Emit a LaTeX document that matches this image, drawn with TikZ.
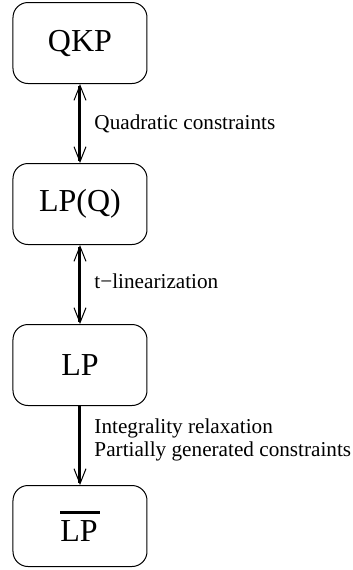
\documentclass[tikz,border=0pt]{standalone}
\usepackage{fontspec}
\setmainfont{Liberation Serif}
\usetikzlibrary{arrows.meta}
\tikzset{
	stage/.style={draw, line width=0.5pt, rounded corners=7.5pt, minimum width=67pt, minimum height=40.5pt, inner sep=0pt, font=\fontsize{16}{18}\selectfont},
	link/.style={line width=1.5pt},
	barb/.tip={Straight Barb[length=7.5pt, width=6pt, line width=0.5pt]},
	tag/.style={anchor=west, inner sep=0pt, xshift=6.5pt, align=left, font=\fontsize{10.6}{11.5}\selectfont}
}

\begin{document}
\begin{tikzpicture}
				\useasboundingbox (0,0) rectangle (176.5pt,-285pt);
				
				\node[stage] (qkp) at (40pt,-21.5pt) {QKP};
				\node[stage] (lpq) at (40pt,-102pt) {LP(Q)};
				\node[stage] (lp) at (40pt,-182.5pt) {LP};
				\node[stage] (lpbar) at (40pt,-263pt) {\vbox{\hrule height 1.5pt\kern 3.5pt\hbox{LP\kern 1pt}}};
				
				\draw[link, barb-barb] (qkp) -- node[tag] (quad) {Quadratic constraints} (lpq);
				\draw[link, barb-barb] (lpq) -- node[tag, yshift=1.5pt] (tlin) {t−linearization} (lp);
				\draw[link, -barb] (lp) -- node[tag, yshift=3pt] (relax) {Integrality relaxation\\Partially generated constraints} (lpbar);
			\end{tikzpicture}
\end{document}
